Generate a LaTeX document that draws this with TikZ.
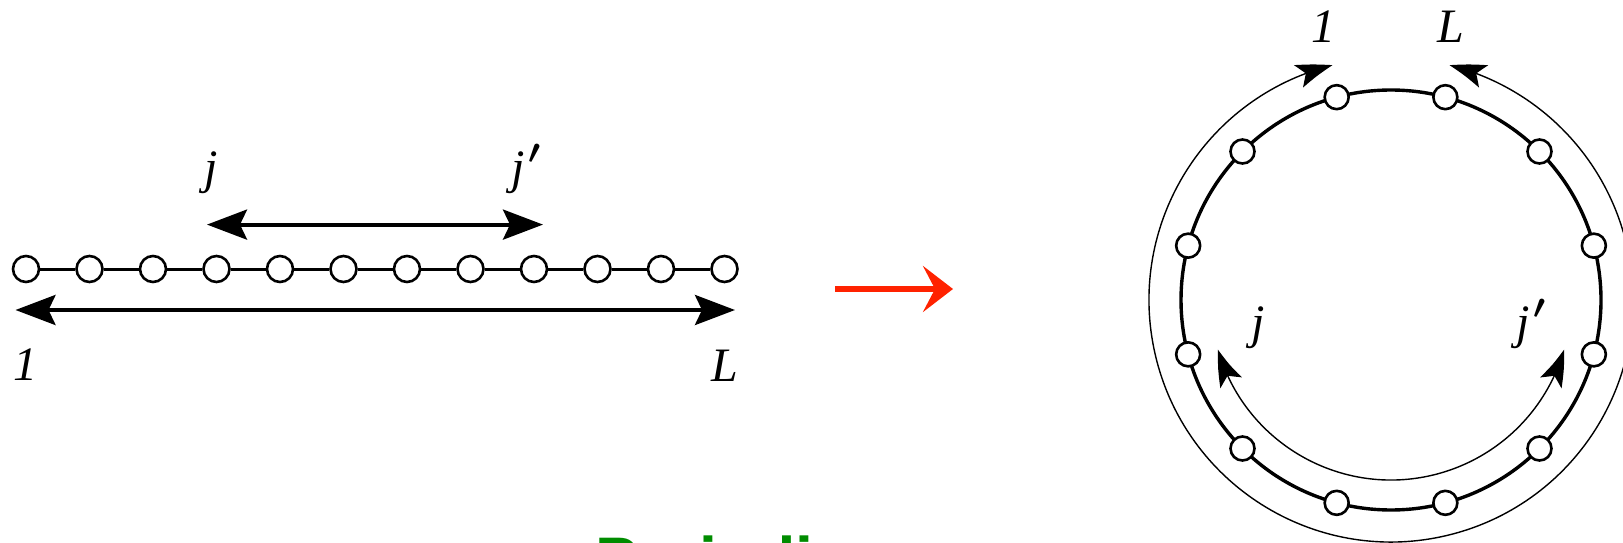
\documentclass[tikz,border=0pt]{standalone}
\usepackage{fontspec}
\setmainfont{Liberation Serif}
\newfontfamily\headfont{Liberation Sans}
\usetikzlibrary{arrows.meta,bending,calc}
\definecolor{maparrow}{RGB}{255,34,0}
\definecolor{headgreen}{RGB}{0,140,0}
\newcommand{\jprime}{\textit{j}\kern2pt\raisebox{10pt}{\fontsize{18}{18}\selectfont\boldmath$\prime$}}
\tikzset{
  site/.style={circle, draw=black, line width=1.3pt, fill=white, minimum size=13pt, inner sep=0pt},
  bond/.style={line width=1.5pt},
  lbl/.style={font=\fontsize{24}{28}\selectfont\itshape, inner sep=0pt},
  hop/.style={{Stealth[length=20pt, width=15pt, inset=3.5pt]}-{Stealth[length=20pt, width=15pt, inset=3.5pt]}, line width=2pt},
  wrap/.style={{Stealth[length=18pt, width=12pt, inset=4pt, bend]}-{Stealth[length=18pt, width=12pt, inset=4pt, bend]}, line width=0.7pt},
  mapto/.style={-{Stealth[length=15pt, width=23pt, inset=6pt]}, line width=3pt, draw=maparrow},
}

\begin{document}
\begin{tikzpicture}[x=0.5pt, y=0.5pt]
  \useasboundingbox (0,0) rectangle (1623,542);
  % open chain
  \foreach \i in {1,...,12}
    \node[site] (c\i) at ({26+63.5*(\i-1)},273) {};
  \foreach \i [evaluate=\i as \n using int(\i+1)] in {1,...,11}
    \draw[bond] (c\i) -- (c\n);
  \coordinate (ja) at ($(c4.center)+(-9.5,44.4)$);
  \coordinate (jb) at ($(c9.center)+(9,44.4)$);
  \coordinate (oa) at ($(c1.center)+(-10.5,-41)$);
  \coordinate (ob) at ($(c12.center)+(10.5,-41)$);
  \draw[hop] (ja) -- (jb);
  \draw[hop] (oa) -- (ob);
  \node[lbl, anchor=base west] (cj) at (204,358) {j};
  \node[lbl, anchor=base west] (cjp) at (511,358) {\jprime};
  \node[lbl, anchor=base] (cone) at (25.5,162) {1};
  \node[lbl, anchor=base] (cL) at (724.5,161) {L};
  % map
  \coordinate (mtail) at (835,253);
  \coordinate (mhead) at (953,253);
  \draw[mapto] (mtail) -- (mhead);
  % ring
  \coordinate (ring) at (1391,242);
  \draw[bond, line width=1.7pt] (ring) circle[radius=210];
  \foreach \k in {1,...,12}
    \node[site, minimum size=12pt] (r\k) at ($(ring)+({105-30*(\k-1)}:210)$) {};
  \draw[wrap] ($(ring)+(104:242)$) arc[start angle=104, end angle=436, radius=242];
  \draw[wrap] ($(ring)+(196:180)$) arc[start angle=196, end angle=344, radius=180];
  \node[lbl, anchor=base] (rone) at (1323.5,499) {1};
  \node[lbl, anchor=base] (rL) at (1451,499) {L};
  \node[lbl, anchor=base west] (rj) at (1251,203.5) {j};
  \node[lbl, anchor=base west] (rjp) at (1516,203.5) {\jprime};
  \node[anchor=base west, inner sep=0pt, text=headgreen,
    font=\headfont\bfseries\fontsize{32.2}{38}\selectfont] (caption) at (595.1,-40.5) {Periodic};
\end{tikzpicture}
\end{document}
